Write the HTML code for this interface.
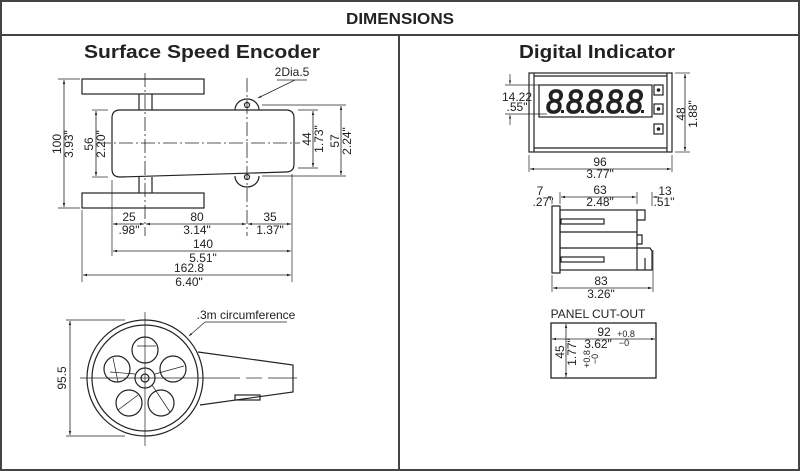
<!DOCTYPE html>
<html><head><meta charset="utf-8"><style>
html,body{margin:0;padding:0;background:#fff;}
svg{display:block;}
text{font-family:"Liberation Sans",Arial,sans-serif;fill:#222;}
.d{font-size:12px;}
.t{font-size:18px;font-weight:bold;}
.g{font-size:30px;font-style:italic;fill:#fff;stroke:#222;stroke-width:1.1;}
</style></head><body>
<svg width="800" height="472" viewBox="0 0 800 472" xmlns="http://www.w3.org/2000/svg">
<defs>
<marker id="a" viewBox="0 0 10 10" refX="10" refY="5" markerWidth="5" markerHeight="5" orient="auto-start-reverse"><path d="M0,2 L10,5 L0,8z" fill="#222"/></marker>
</defs>
<rect x="1" y="1" width="798" height="469" fill="none" stroke="#444" stroke-width="2"/>
<line x1="0" y1="35" x2="800" y2="35" stroke="#444" stroke-width="2"/>
<line x1="399" y1="35" x2="399" y2="470" stroke="#444" stroke-width="2"/>
<text x="400" y="24" text-anchor="middle" style="font-size:16px;font-weight:bold" textLength="108" lengthAdjust="spacingAndGlyphs">DIMENSIONS</text>
<text x="202" y="58" text-anchor="middle" class="t" textLength="236" lengthAdjust="spacingAndGlyphs">Surface Speed Encoder</text>
<text x="597" y="58" text-anchor="middle" class="t" textLength="156" lengthAdjust="spacingAndGlyphs">Digital Indicator</text>

<g stroke="#222" fill="none" stroke-width="1.2">
<rect x="82" y="79" width="122" height="15"/>
<rect x="82" y="193" width="122" height="15"/>
<line x1="139" y1="94" x2="139" y2="110"/><line x1="152" y1="94" x2="152" y2="110"/>
<line x1="139" y1="177" x2="139" y2="193"/><line x1="152" y1="177" x2="152" y2="193"/>
<path d="M235,110 a12,11 0 0 1 24,0" fill="#fff"/>
<path d="M235,176 a12,11 0 0 0 24,0" fill="#fff"/>
<circle cx="247" cy="105" r="2.5"/><circle cx="247" cy="177" r="2.5"/>
<path d="M120,110 L286,110 Q294,110 294,118 L294,164 Q294,172 286,172 L120,177 Q112,177 112,169 L112,118 Q112,110 120,110 z" fill="#fff"/>
<line x1="145" y1="73" x2="145" y2="236" stroke-width="0.8" stroke-dasharray="14,3,2,3"/>
<line x1="247" y1="78" x2="247" y2="236" stroke-width="0.8" stroke-dasharray="14,3,2,3"/>
<line x1="97" y1="143" x2="300" y2="143" stroke-width="0.8" stroke-dasharray="14,3,2,3"/>
<g stroke-width="0.7">
<line x1="58" y1="79" x2="80" y2="79"/><line x1="58" y1="208" x2="80" y2="208"/>
<line x1="92" y1="110" x2="108" y2="110"/><line x1="92" y1="177" x2="108" y2="177"/>
<line x1="298" y1="110" x2="318" y2="110"/><line x1="298" y1="168" x2="318" y2="168"/>
<line x1="262" y1="105" x2="346" y2="105"/><line x1="262" y1="176" x2="346" y2="176"/>
<line x1="82" y1="210" x2="82" y2="282"/><line x1="112" y1="180" x2="112" y2="256"/>
<line x1="292" y1="174" x2="292" y2="282"/>
<line x1="295" y1="80" x2="258" y2="98" marker-end="url(#a)"/><line x1="277" y1="80" x2="307" y2="80"/>
</g>
<g stroke-width="0.8" marker-start="url(#a)" marker-end="url(#a)">
<line x1="64" y1="80" x2="64" y2="207"/>
<line x1="96" y1="111" x2="96" y2="176"/>
<line x1="313" y1="111" x2="313" y2="167"/>
<line x1="341" y1="106" x2="341" y2="175"/>
<line x1="113" y1="224" x2="144" y2="224"/>
<line x1="146" y1="224" x2="246" y2="224"/>
<line x1="248" y1="224" x2="291" y2="224"/>
<line x1="113" y1="251" x2="291" y2="251"/>
<line x1="83" y1="275" x2="291" y2="275"/>
</g>
</g>
<g class="d">
<text x="292" y="76" text-anchor="middle">2Dia.5</text>
<text transform="translate(61,144) rotate(-90)" text-anchor="middle">100</text>
<text transform="translate(73,144) rotate(-90)" text-anchor="middle">3.93"</text>
<text transform="translate(93,144) rotate(-90)" text-anchor="middle">56</text>
<text transform="translate(105,144) rotate(-90)" text-anchor="middle">2.20"</text>
<text transform="translate(311,139) rotate(-90)" text-anchor="middle">44</text>
<text transform="translate(323,139) rotate(-90)" text-anchor="middle">1.73"</text>
<text transform="translate(339,141) rotate(-90)" text-anchor="middle">57</text>
<text transform="translate(351,141) rotate(-90)" text-anchor="middle">2.24"</text>
<text x="129" y="221" text-anchor="middle">25</text><text x="129" y="234" text-anchor="middle">.98"</text>
<text x="197" y="221" text-anchor="middle">80</text><text x="197" y="234" text-anchor="middle">3.14"</text>
<text x="270" y="221" text-anchor="middle">35</text><text x="270" y="234" text-anchor="middle">1.37"</text>
<text x="203" y="248" text-anchor="middle">140</text><text x="203" y="262" text-anchor="middle">5.51"</text>
<text x="189" y="272" text-anchor="middle">162.8</text><text x="189" y="286" text-anchor="middle">6.40"</text>
</g>

<g stroke="#222" fill="none" stroke-width="1.2">
<path d="M198,352 L293,365 L293,392 L200,405" fill="#fff"/>
<rect x="235" y="395" width="25" height="5"/>
<circle cx="145" cy="378" r="58" fill="#fff"/>
<circle cx="145" cy="378" r="53"/>
<circle cx="145" cy="350" r="13"/><circle cx="173" cy="369" r="13"/>
<circle cx="161" cy="403" r="13"/><circle cx="129" cy="403" r="13"/>
<circle cx="117" cy="369" r="13"/>
<circle cx="145" cy="378" r="10"/><circle cx="145" cy="378" r="4"/>
<g stroke-width="0.7">
<line x1="145" y1="312" x2="145" y2="446"/>
<line x1="80" y1="378" x2="240" y2="378"/>
<line x1="246" y1="378" x2="262" y2="378"/><line x1="268" y1="378" x2="297" y2="378"/>
<line x1="110" y1="372" x2="135" y2="374"/><line x1="155" y1="374" x2="184" y2="366"/>
<line x1="137" y1="346" x2="156" y2="346"/><line x1="118" y1="410" x2="138" y2="395"/>
<line x1="152" y1="385" x2="170" y2="412"/><line x1="113" y1="358" x2="118" y2="382"/>
<line x1="66" y1="320" x2="125" y2="320"/><line x1="66" y1="436" x2="125" y2="436"/>
<line x1="205" y1="322" x2="287" y2="322"/><line x1="205" y1="322" x2="189" y2="336" marker-end="url(#a)"/>
</g>
<line x1="70" y1="321" x2="70" y2="435" stroke-width="0.8" marker-start="url(#a)" marker-end="url(#a)"/>
</g>
<text class="d" transform="translate(66,378) rotate(-90)" text-anchor="middle">95.5</text>
<text class="d" x="246" y="319" text-anchor="middle">.3m circumference</text>

<g stroke="#222" fill="none" stroke-width="1.2">
<rect x="529" y="73" width="143" height="79"/>
<line x1="534" y1="73" x2="534" y2="152"/><line x1="667" y1="73" x2="667" y2="152"/>
<line x1="534" y1="76" x2="667" y2="76"/><line x1="534" y1="148" x2="667" y2="148"/>
<rect x="539" y="85" width="113" height="32"/>
<rect x="654" y="85" width="9" height="10"/><rect x="654" y="104" width="9" height="10"/><rect x="654" y="124" width="9" height="10"/>
<g stroke-width="0.7">
<line x1="505" y1="85" x2="547" y2="85"/><line x1="505" y1="114" x2="547" y2="114"/>
<line x1="675" y1="73" x2="690" y2="73"/><line x1="675" y1="152" x2="690" y2="152"/>
<line x1="529" y1="155" x2="529" y2="172"/><line x1="672" y1="155" x2="672" y2="172"/>
<line x1="510" y1="74" x2="510" y2="84" marker-end="url(#a)"/><line x1="510" y1="125" x2="510" y2="115" marker-end="url(#a)"/>
</g>
<g stroke-width="0.8" marker-start="url(#a)" marker-end="url(#a)">
<line x1="685" y1="74" x2="685" y2="151"/>
<line x1="530" y1="169" x2="671" y2="169"/>
</g>
</g>
<g fill="#222"><circle cx="658.5" cy="90" r="1.8"/><circle cx="658.5" cy="109" r="1.8"/><circle cx="658.5" cy="129" r="1.8"/>
<rect x="561" y="110" width="3" height="3"/><rect x="581" y="110" width="3" height="3"/><rect x="601" y="110" width="3" height="3"/><rect x="621" y="110" width="3" height="3"/><rect x="641" y="110" width="3" height="3"/></g>
<g class="g">
<text transform="translate(546,113) scale(1,1.12)">8</text>
<text transform="translate(566,113) scale(1,1.12)">8</text>
<text transform="translate(586,113) scale(1,1.12)">8</text>
<text transform="translate(606,113) scale(1,1.12)">8</text>
<text transform="translate(626,113) scale(1,1.12)">8</text>
</g>
<g class="d">
<text x="517" y="101" text-anchor="middle">14.22</text><text x="517" y="111" text-anchor="middle">.55"</text>
<text transform="translate(685,114) rotate(-90)" text-anchor="middle">48</text>
<text transform="translate(697,114) rotate(-90)" text-anchor="middle">1.88"</text>
<text x="600" y="166" text-anchor="middle">96</text><text x="600" y="178" text-anchor="middle">3.77"</text>
</g>

<g stroke="#222" fill="none" stroke-width="1.2">
<rect x="552" y="206" width="8" height="67"/>
<rect x="560" y="210" width="77" height="60"/>
<line x1="560" y1="232" x2="637" y2="232"/><line x1="560" y1="248" x2="637" y2="248"/>
<rect x="561" y="219" width="43" height="5"/><rect x="561" y="257" width="43" height="5"/>
<path d="M637,210 L645,210 L645,220 L637,220"/>
<path d="M637,235 L642,235 L642,244 L637,244"/>
<path d="M637,248 L650,248 L652,251 L652,270 L637,270 M645,258 L645,270"/>
<g stroke-width="0.7">
<line x1="552" y1="200" x2="552" y2="204"/><line x1="560" y1="192" x2="560" y2="204"/>
<line x1="637" y1="192" x2="637" y2="204"/><line x1="652" y1="192" x2="652" y2="206"/>
<line x1="552" y1="275" x2="552" y2="292"/><line x1="653" y1="250" x2="653" y2="292"/>
<line x1="548" y1="197" x2="552" y2="197" marker-end="url(#a)"/>
<line x1="659" y1="197" x2="653" y2="197" marker-end="url(#a)"/>
</g>
<g stroke-width="0.8" marker-start="url(#a)" marker-end="url(#a)">
<line x1="561" y1="197" x2="636" y2="197"/>
<line x1="553" y1="288" x2="652" y2="288"/>
</g>
</g>
<g class="d">
<text x="540" y="195" text-anchor="middle">7</text><text x="543" y="206" text-anchor="middle">.27"</text>
<text x="600" y="194" text-anchor="middle">63</text><text x="600" y="206" text-anchor="middle">2.48"</text>
<text x="665" y="195" text-anchor="middle">13</text><text x="664" y="206" text-anchor="middle">.51"</text>
<text x="601" y="285" text-anchor="middle">83</text><text x="601" y="298" text-anchor="middle">3.26"</text>
<text x="598" y="318" text-anchor="middle">PANEL CUT-OUT</text>
</g>

<g stroke="#222" fill="none">
<rect x="551" y="323" width="105" height="55" stroke-width="1.3"/>
<line x1="552" y1="339" x2="655" y2="339" stroke-width="0.8" marker-start="url(#a)" marker-end="url(#a)"/>
<line x1="566" y1="324" x2="566" y2="377" stroke-width="0.8" marker-start="url(#a)" marker-end="url(#a)"/>
</g>
<g class="d">
<text x="604" y="336" text-anchor="middle">92</text><text x="598" y="348" text-anchor="middle">3.62"</text>
<text x="626" y="337" text-anchor="middle" style="font-size:9px">+0.8</text><text x="624" y="346" text-anchor="middle" style="font-size:9px">−0</text>
<text transform="translate(564,352) rotate(-90)" text-anchor="middle">45</text>
<text transform="translate(576,352) rotate(-90)" text-anchor="middle">1.77"</text>
<text transform="translate(590,359) rotate(-90)" text-anchor="middle" style="font-size:9px">+0.8</text>
<text transform="translate(598,359) rotate(-90)" text-anchor="middle" style="font-size:9px">−0</text>
</g>
</svg>
</body></html>
